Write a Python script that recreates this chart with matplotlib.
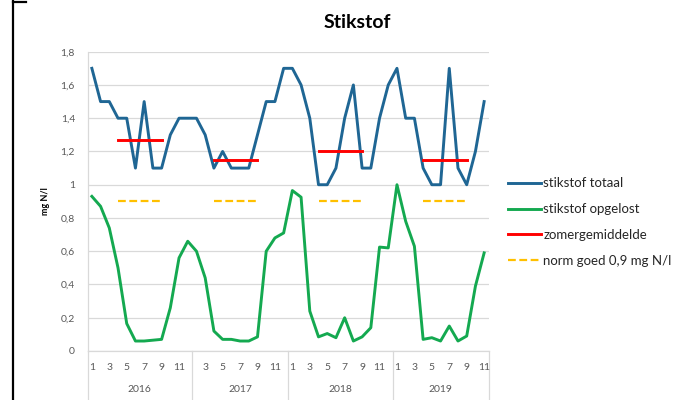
import matplotlib
matplotlib.use("Agg")
import matplotlib.pyplot as plt
from matplotlib.lines import Line2D

plt.rcParams['font.family'] = ['Lato', 'DejaVu Sans']

# Monthly samples per year
years = ["2016", "2017", "2018", "2019"]
months = {
    "2016": [1, 2, 3, 4, 5, 6, 7, 8, 9, 10, 11, 12],
    "2017": [2, 3, 4, 5, 6, 7, 8, 9, 10, 11, 12],
    "2018": [1, 2, 3, 4, 5, 6, 7, 8, 9, 10, 11, 12],
    "2019": [1, 2, 3, 4, 5, 6, 7, 8, 9, 10, 11],
}

stikstof_totaal = [
    1.7, 1.5, 1.5, 1.4, 1.4, 1.1, 1.5, 1.1, 1.1, 1.3, 1.4, 1.4,
    1.4, 1.3, 1.1, 1.2, 1.1, 1.1, 1.1, 1.3, 1.5, 1.5, 1.7,
    1.7, 1.6, 1.4, 1.0, 1.0, 1.1, 1.4, 1.6, 1.1, 1.1, 1.4, 1.6,
    1.7, 1.4, 1.4, 1.1, 1.0, 1.0, 1.7, 1.1, 1.0, 1.2, 1.5,
]
stikstof_opgelost = [
    0.93, 0.87, 0.74, 0.50, 0.165, 0.06, 0.06, 0.065, 0.07, 0.26, 0.56, 0.66,
    0.60, 0.44, 0.12, 0.07, 0.07, 0.06, 0.06, 0.085, 0.60, 0.68, 0.71,
    0.965, 0.925, 0.24, 0.085, 0.105, 0.08, 0.20, 0.06, 0.085, 0.14, 0.625, 0.62,
    1.0, 0.78, 0.63, 0.07, 0.08, 0.06, 0.15, 0.06, 0.09, 0.39, 0.59,
]
zomergemiddelde = [1.27, 1.15, 1.20, 1.15]   # mean of April-September per year
norm_goed = 0.9
summer_months = (4, 9)

y_ticks = [0, 0.2, 0.4, 0.6, 0.8, 1.0, 1.2, 1.4, 1.6, 1.8]
y_labels = ["0", "0,2", "0,4", "0,6", "0,8", "1", "1,2", "1,4", "1,6", "1,8"]

# category positions
pos, month_of, year_ranges = [], [], []
i = 0
for y in years:
    start = i
    for m in months[y]:
        pos.append(i)
        month_of.append(m)
        i += 1
    year_ranges.append((start, i - 1))

W, H = 691, 400
fig = plt.figure(figsize=(W / 100, H / 100), dpi=100)
ax_l, ax_r, ax_t, ax_b = 87.5, 488.5, 51.7, 351.0
ax = fig.add_axes([ax_l / W, 1 - ax_b / H, (ax_r - ax_l) / W, (ax_b - ax_t) / H])

blue = "#1F6694"
green = "#14A950"
red = "#FF0000"
yellow = "#FFC000"

ax.plot(pos, stikstof_totaal, color=blue, lw=2.1, solid_joinstyle="round", zorder=4)
ax.plot(pos, stikstof_opgelost, color=green, lw=2.1, solid_joinstyle="round", zorder=4)

for (s, e), y, zm in zip(year_ranges, years, zomergemiddelde):
    xs = [p for p, m in zip(range(s, e + 1), months[y]) if summer_months[0] <= m <= summer_months[1]]
    ax.plot([xs[0], xs[-1]], [zm, zm], color=red, lw=2.1, zorder=5)
    ax.plot([xs[0], xs[-1]], [norm_goed, norm_goed], color=yellow, lw=1.6,
            dashes=(3.5, 1.6), zorder=5)

ax.set_xlim(-0.5, len(pos) - 0.5)
ax.set_ylim(0, 1.8)
ax.set_yticks(y_ticks)
ax.set_yticklabels(y_labels)
ax.yaxis.grid(True, color="#D9D9D9", lw=0.9)
ax.set_axisbelow(True)
ax.tick_params(axis="y", length=0, pad=9, labelsize=7.5, labelcolor="#595959")
ax.set_xticks([])
for sp in ["top", "right"]:
    ax.spines[sp].set_visible(False)
ax.spines["left"].set_color("#D9D9D9")
ax.spines["bottom"].set_color("#D9D9D9")
ax.spines["left"].set_linewidth(0.9)
ax.spines["bottom"].set_linewidth(0.9)

ax.set_ylabel("mg N/l", fontsize=6.5, fontweight="bold", color="#000000", labelpad=8)

# two-level category axis
ah = ax_b - ax_t
def afrac(px):
    return (ax_b - px) / ah

tr = ax.get_xaxis_transform()
for p, m in zip(pos, month_of):
    if m % 2 == 1:
        ax.text(p, afrac(367), str(m), transform=tr, ha="center", va="center",
                fontsize=7.5, color="#595959")
for (s, e), y in zip(year_ranges, years):
    ax.text((s + e) / 2, afrac(390), y, transform=tr, ha="center", va="center",
            fontsize=7.5, color="#595959")
bounds = [-0.5] + [e + 0.5 for s, e in year_ranges]
for b in bounds:
    ax.add_line(Line2D([b, b], [0, afrac(400)], transform=tr, color="#D9D9D9",
                       lw=0.9, clip_on=False))

fig.text(357 / W, 1 - 22 / H, "Stikstof", ha="center", va="center",
         fontsize=14, fontweight="bold", color="#000000")

handles = [
    Line2D([], [], color=blue, lw=2.1),
    Line2D([], [], color=green, lw=2.1),
    Line2D([], [], color=red, lw=2.1),
    Line2D([], [], color=yellow, lw=1.6, dashes=(3.5, 1.6)),
]
labels = ["stikstof totaal", "stikstof opgelost", "zomergemiddelde", "norm goed 0,9 mg N/l"]
fig.legend(handles, labels, loc="upper left", bbox_to_anchor=(503 / W, 1 - 172 / H),
           frameon=False, fontsize=9.5, handlelength=2.5, handletextpad=0.15,
           labelspacing=1.05, labelcolor="#262626", borderaxespad=0)

# frame edges
fig.add_artist(Line2D([13 / W, 13 / W], [0, 1], transform=fig.transFigure, color="black", lw=1.6))
fig.add_artist(Line2D([13 / W, 26 / W], [1 - 1.5 / H, 1 - 1.5 / H], transform=fig.transFigure,
                      color="black", lw=1.6))

fig.savefig("out.png", dpi=100, facecolor="white")
